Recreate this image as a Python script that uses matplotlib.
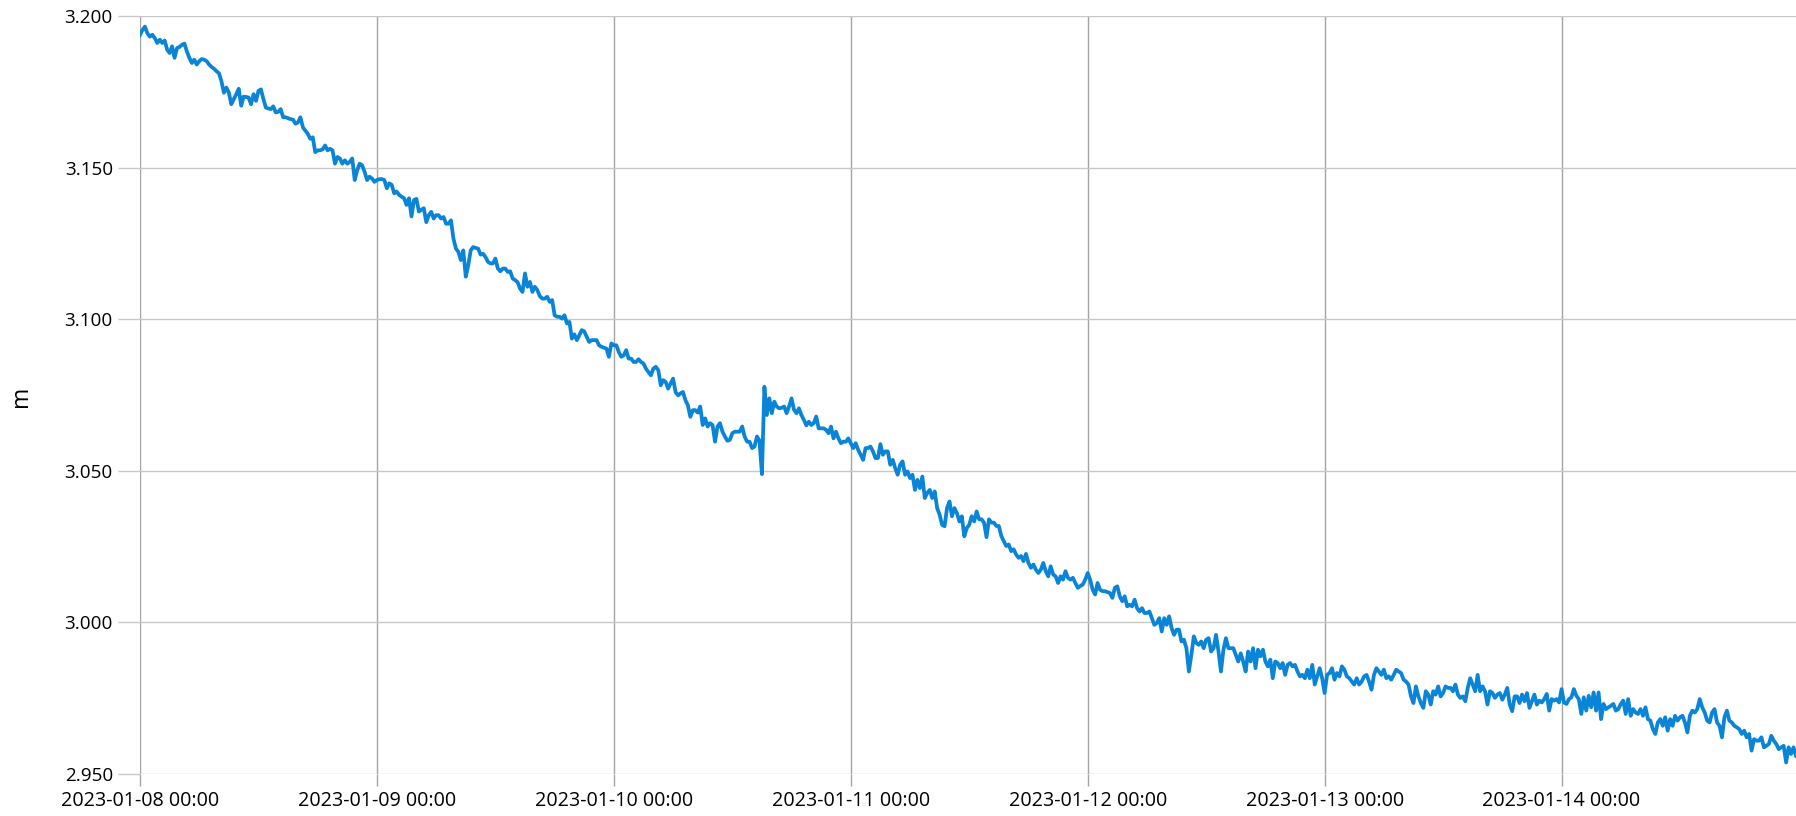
import numpy as np
import pandas as pd
import matplotlib
matplotlib.use('Agg')
import matplotlib.pyplot as plt
import matplotlib.dates as mdates
from matplotlib.ticker import FormatStrFormatter

# water level (m), one value every 15 minutes starting 2023-01-08 00:00
start = '2023-01-08 00:00'

day_08 = [3.1938, 3.1954, 3.1965, 3.1943, 3.1932, 3.1938, 3.1927, 3.1911,
          3.1922, 3.1911, 3.1919, 3.1889, 3.1878, 3.1900, 3.1862, 3.1894,
          3.1898, 3.1905, 3.1909, 3.1883, 3.1862, 3.1845, 3.1856, 3.1840,
          3.1851, 3.1858, 3.1856, 3.1851, 3.1840, 3.1832, 3.1826, 3.1818,
          3.1811, 3.1785, 3.1747, 3.1764, 3.1747, 3.1709, 3.1726, 3.1742,
          3.1760, 3.1704, 3.1734, 3.1733, 3.1731, 3.1709, 3.1742, 3.1720,
          3.1753, 3.1758, 3.1726, 3.1698, 3.1695, 3.1693, 3.1702, 3.1682,
          3.1684, 3.1693, 3.1666, 3.1666, 3.1663, 3.1660, 3.1658, 3.1645,
          3.1649, 3.1666, 3.1633, 3.1622, 3.1611, 3.1595, 3.1600, 3.1551,
          3.1557, 3.1557, 3.1560, 3.1573, 3.1557, 3.1562, 3.1557, 3.1513,
          3.1535, 3.1530, 3.1513, 3.1524, 3.1513, 3.1519, 3.1530, 3.1459,
          3.1491, 3.1513, 3.1508, 3.1486, 3.1459, 3.1470, 3.1464, 3.1453]
day_09 = [3.1459, 3.1462, 3.1462, 3.1459, 3.1432, 3.1448, 3.1443, 3.1415,
          3.1421, 3.1410, 3.1404, 3.1399, 3.1377, 3.1399, 3.1339, 3.1393,
          3.1397, 3.1355, 3.1361, 3.1366, 3.1320, 3.1343, 3.1354, 3.1332,
          3.1343, 3.1343, 3.1332, 3.1337, 3.1315, 3.1315, 3.1326, 3.1266,
          3.1233, 3.1222, 3.1195, 3.1227, 3.1140, 3.1178, 3.1227, 3.1238,
          3.1235, 3.1233, 3.1213, 3.1216, 3.1205, 3.1189, 3.1184, 3.1184,
          3.1200, 3.1167, 3.1158, 3.1167, 3.1167, 3.1156, 3.1158, 3.1134,
          3.1129, 3.1122, 3.1101, 3.1090, 3.1151, 3.1107, 3.1123, 3.1090,
          3.1107, 3.1096, 3.1076, 3.1068, 3.1068, 3.1074, 3.1057, 3.1063,
          3.1013, 3.1008, 3.1008, 3.1002, 3.1013, 3.0986, 3.0991, 3.0936,
          3.0950, 3.0931, 3.0947, 3.0964, 3.0960, 3.0942, 3.0925, 3.0931,
          3.0931, 3.0931, 3.0914, 3.0909, 3.0906, 3.0903, 3.0876, 3.0920]
day_10 = [3.0914, 3.0914, 3.0892, 3.0876, 3.0881, 3.0898, 3.0870, 3.0870,
          3.0859, 3.0859, 3.0868, 3.0859, 3.0854, 3.0837, 3.0826, 3.0815,
          3.0837, 3.0843, 3.0832, 3.0782, 3.0799, 3.0793, 3.0771, 3.0788,
          3.0804, 3.0760, 3.0749, 3.0755, 3.0760, 3.0733, 3.0716, 3.0678,
          3.0700, 3.0700, 3.0692, 3.0712, 3.0651, 3.0673, 3.0646, 3.0657,
          3.0651, 3.0596, 3.0646, 3.0657, 3.0629, 3.0613, 3.0599, 3.0602,
          3.0624, 3.0629, 3.0629, 3.0629, 3.0646, 3.0613, 3.0596, 3.0596,
          3.0575, 3.0580, 3.0613, 3.0600, 3.0489, 3.0777, 3.0684, 3.0739,
          3.0690, 3.0728, 3.0712, 3.0706, 3.0708, 3.0712, 3.0690, 3.0712,
          3.0739, 3.0701, 3.0690, 3.0706, 3.0684, 3.0668, 3.0650, 3.0662,
          3.0651, 3.0657, 3.0679, 3.0640, 3.0640, 3.0640, 3.0635, 3.0624,
          3.0646, 3.0607, 3.0629, 3.0607, 3.0591, 3.0596, 3.0596, 3.0607]
day_11 = [3.0591, 3.0575, 3.0591, 3.0569, 3.0553, 3.0536, 3.0575, 3.0575,
          3.0580, 3.0564, 3.0542, 3.0542, 3.0588, 3.0553, 3.0564, 3.0564,
          3.0520, 3.0536, 3.0509, 3.0487, 3.0520, 3.0531, 3.0487, 3.0498,
          3.0476, 3.0487, 3.0437, 3.0470, 3.0443, 3.0481, 3.0410, 3.0427,
          3.0437, 3.0410, 3.0432, 3.0377, 3.0355, 3.0322, 3.0317, 3.0377,
          3.0399, 3.0350, 3.0377, 3.0361, 3.0333, 3.0350, 3.0284, 3.0311,
          3.0322, 3.0350, 3.0333, 3.0366, 3.0340, 3.0340, 3.0329, 3.0281,
          3.0340, 3.0329, 3.0329, 3.0318, 3.0318, 3.0285, 3.0268, 3.0252,
          3.0257, 3.0235, 3.0241, 3.0224, 3.0213, 3.0219, 3.0202, 3.0226,
          3.0196, 3.0180, 3.0191, 3.0174, 3.0163, 3.0174, 3.0196, 3.0169,
          3.0152, 3.0185, 3.0158, 3.0152, 3.0130, 3.0152, 3.0141, 3.0169,
          3.0147, 3.0141, 3.0147, 3.0130, 3.0114, 3.0120, 3.0125, 3.0141]
day_12 = [3.0163, 3.0141, 3.0108, 3.0092, 3.0130, 3.0108, 3.0103, 3.0103,
          3.0100, 3.0097, 3.0081, 3.0114, 3.0119, 3.0086, 3.0070, 3.0086,
          3.0053, 3.0058, 3.0053, 3.0075, 3.0047, 3.0036, 3.0047, 3.0031,
          3.0031, 3.0036, 3.0014, 2.9992, 2.9998, 3.0014, 2.9970, 3.0014,
          2.9992, 3.0020, 2.9981, 2.9959, 2.9976, 2.9976, 2.9937, 2.9943,
          2.9915, 2.9838, 2.9893, 2.9954, 2.9932, 2.9926, 2.9937, 2.9915,
          2.9943, 2.9948, 2.9904, 2.9915, 2.9959, 2.9904, 2.9838, 2.9910,
          2.9948, 2.9915, 2.9915, 2.9915, 2.9893, 2.9871, 2.9898, 2.9871,
          2.9838, 2.9904, 2.9871, 2.9915, 2.9849, 2.9910, 2.9888, 2.9910,
          2.9871, 2.9855, 2.9877, 2.9816, 2.9871, 2.9866, 2.9849, 2.9866,
          2.9827, 2.9860, 2.9866, 2.9855, 2.9860, 2.9838, 2.9822, 2.9827,
          2.9816, 2.9844, 2.9816, 2.9860, 2.9795, 2.9822, 2.9849, 2.9816]
day_13 = [2.9767, 2.9827, 2.9833, 2.9849, 2.9811, 2.9833, 2.9822, 2.9855,
          2.9844, 2.9822, 2.9816, 2.9805, 2.9795, 2.9816, 2.9795, 2.9805,
          2.9822, 2.9827, 2.9805, 2.9778, 2.9827, 2.9849, 2.9838, 2.9827,
          2.9844, 2.9816, 2.9822, 2.9811, 2.9827, 2.9844, 2.9838, 2.9833,
          2.9811, 2.9805, 2.9795, 2.9756, 2.9734, 2.9789, 2.9756, 2.9734,
          2.9718, 2.9773, 2.9762, 2.9729, 2.9773, 2.9762, 2.9789, 2.9756,
          2.9767, 2.9789, 2.9784, 2.9784, 2.9773, 2.9795, 2.9762, 2.9751,
          2.9756, 2.9740, 2.9784, 2.9816, 2.9795, 2.9773, 2.9827, 2.9773,
          2.9789, 2.9773, 2.9729, 2.9773, 2.9767, 2.9751, 2.9762, 2.9767,
          2.9745, 2.9762, 2.9784, 2.9729, 2.9707, 2.9756, 2.9756, 2.9734,
          2.9762, 2.9740, 2.9767, 2.9718, 2.9740, 2.9762, 2.9729, 2.9742,
          2.9736, 2.9747, 2.9764, 2.9709, 2.9747, 2.9742, 2.9747, 2.9736]
day_14 = [2.9780, 2.9736, 2.9731, 2.9747, 2.9753, 2.9780, 2.9758, 2.9747,
          2.9698, 2.9753, 2.9709, 2.9758, 2.9720, 2.9769, 2.9709, 2.9769,
          2.9681, 2.9731, 2.9714, 2.9720, 2.9725, 2.9731, 2.9709, 2.9714,
          2.9731, 2.9742, 2.9698, 2.9747, 2.9692, 2.9714, 2.9703, 2.9698,
          2.9714, 2.9692, 2.9720, 2.9681, 2.9676, 2.9648, 2.9632, 2.9670,
          2.9681, 2.9659, 2.9687, 2.9643, 2.9681, 2.9659, 2.9692, 2.9676,
          2.9687, 2.9692, 2.9670, 2.9637, 2.9692, 2.9709, 2.9703, 2.9714,
          2.9747, 2.9720, 2.9703, 2.9676, 2.9670, 2.9703, 2.9714, 2.9670,
          2.9659, 2.9621, 2.9687, 2.9709, 2.9676, 2.9670, 2.9659, 2.9654,
          2.9648, 2.9632, 2.9643, 2.9621, 2.9632, 2.9577, 2.9615, 2.9610,
          2.9610, 2.9621, 2.9588, 2.9593, 2.9599, 2.9626, 2.9610, 2.9599,
          2.9582, 2.9588, 2.9593, 2.9538, 2.9588, 2.9566, 2.9588, 2.9560]

level = day_08 + day_09 + day_10 + day_11 + day_12 + day_13 + day_14
times = pd.date_range(start, periods=len(level), freq='15min')

plt.rcParams['font.family'] = ['Open Sans', 'DejaVu Sans']

fig = plt.figure(figsize=(17.96, 8.16), dpi=100)
ax = fig.add_axes([140 / 1796, 42 / 816, 1656 / 1796, 758 / 816])

ax.plot(times, level, color='#0a84d6', linewidth=2.7, solid_joinstyle='round')

ax.set_ylim(2.95, 3.2)
ax.set_yticks(np.arange(2.95, 3.2001, 0.05))
ax.yaxis.set_major_formatter(FormatStrFormatter('%.3f'))
ax.set_xlim(times[0], times[-1])
ax.xaxis.set_major_locator(mdates.DayLocator())
ax.xaxis.set_major_formatter(mdates.DateFormatter('%Y-%m-%d %H:%M'))

ax.grid(axis='y', color='#c8c8c8', linewidth=1)
ax.grid(axis='x', color='#a4a4a4', linewidth=1)
for s in ax.spines.values():
    s.set_visible(False)
ax.tick_params(axis='y', length=16, width=1, color='#c8c8c8', pad=3.5, labelsize=13.6)
ax.tick_params(axis='x', length=8.6, width=1, color='#a4a4a4', pad=4, labelsize=14.2)

fig.text(21 / 1796, 1 - 396 / 816, 'm', rotation=90, ha='center', va='center', fontsize=16.5)

fig.savefig('out.png', dpi=100)
